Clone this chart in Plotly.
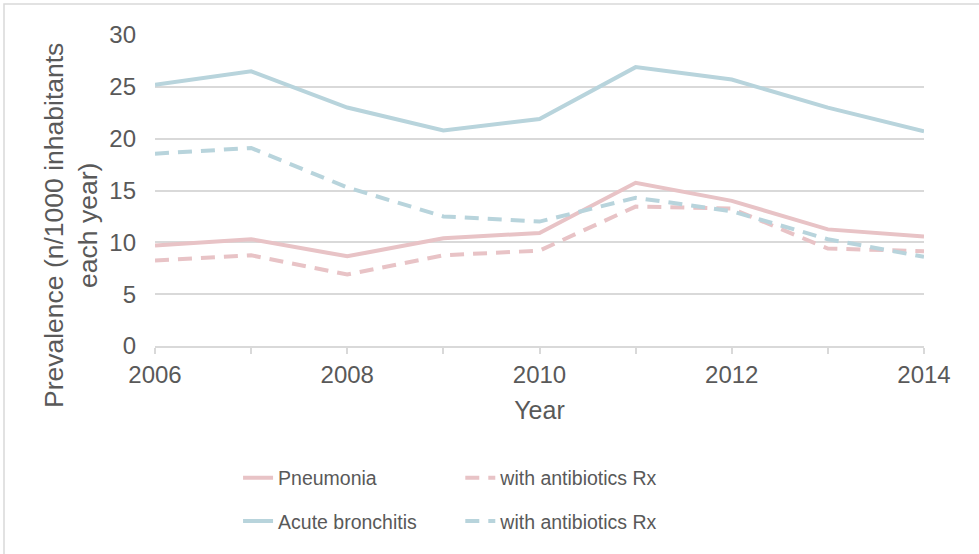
import plotly.graph_objects as go

years = [2006, 2007, 2008, 2009, 2010, 2011, 2012, 2013, 2014]
pneumonia = [9.7, 10.3, 8.65, 10.4, 10.9, 15.75, 14.0, 11.25, 10.55]
pneumonia_rx = [8.25, 8.75, 6.9, 8.75, 9.2, 13.45, 13.25, 9.4, 9.15]
bronchitis = [25.2, 26.5, 23.0, 20.8, 21.9, 26.9, 25.7, 23.0, 20.7]
bronchitis_rx = [18.55, 19.1, 15.3, 12.5, 12.0, 14.3, 13.0, 10.3, 8.6]

pink = "#E8C3C6"
blue = "#B8D4DC"
txt = "#595959"
grid = "#D9D9D9"
FONT = "Liberation Sans, Arial"

fig = go.Figure()
fig.add_trace(go.Scatter(x=years, y=pneumonia, mode="lines", name="Pneumonia",
                         line=dict(color=pink, width=4), legend="legend", legendgroup="a"))
fig.add_trace(go.Scatter(x=years, y=bronchitis, mode="lines", name="Acute bronchitis",
                         line=dict(color=blue, width=4), legend="legend", legendgroup="b"))
fig.add_trace(go.Scatter(x=years, y=pneumonia_rx, mode="lines", name="with antibiotics Rx",
                         line=dict(color=pink, width=4, dash="14px,9px"), legend="legend2", legendgroup="c"))
fig.add_trace(go.Scatter(x=years, y=bronchitis_rx, mode="lines", name="with antibiotics Rx",
                         line=dict(color=blue, width=4, dash="14px,9px"), legend="legend2", legendgroup="d"))

leg_common = dict(orientation="v", xanchor="left", yanchor="top", bgcolor="rgba(0,0,0,0)",
                  font=dict(family=FONT, size=19.5, color=txt),
                  traceorder="grouped", tracegroupgap=15)

fig.update_layout(
    width=979, height=554,
    margin=dict(l=155, r=55, t=35, b=208),
    paper_bgcolor="white", plot_bgcolor="white",
    font=dict(family=FONT, size=20, color=txt),
    legend=dict(x=0.108, y=-0.362, **leg_common),
    legend2=dict(x=0.397, y=-0.362, **leg_common),
    xaxis=dict(range=[2006, 2014], tickvals=[2006, 2008, 2010, 2012, 2014],
               showgrid=False, showline=True, linecolor=grid, linewidth=1.5,
               ticks="outside", tickcolor=grid, ticklen=6, tickwidth=1.5,
               zeroline=False,
               tickfont=dict(family=FONT, size=24, color=txt),
               title=dict(text="Year", font=dict(family=FONT, size=25, color=txt), standoff=15)),
    yaxis=dict(range=[0, 30], tickvals=[0, 5, 10, 15, 20, 25, 30],
               showgrid=True, gridcolor=grid, gridwidth=1.5, zeroline=False,
               showline=False, ticks="", ticklabelstandoff=18,
               tickfont=dict(family=FONT, size=24, color=txt)),
    annotations=[dict(text="Prevalence (n/1000 inhabitants<br>each year)",
                      xref="paper", yref="paper", x=(71 - 155) / 769, y=(346 - 226) / 311,
                      xanchor="center", yanchor="middle", textangle=-90, showarrow=False,
                      font=dict(family=FONT, size=26.5, color=txt))],
    shapes=[dict(type="rect", xref="paper", yref="paper",
                 x0=(4 - 155) / 769, x1=(990 - 155) / 769,
                 y0=(346 - 570) / 311, y1=(346 - 4) / 311,
                 line=dict(color="#D9D9D9", width=1.5), layer="below")],
)
fig.update_xaxes(minor=dict(tickvals=years, ticks="outside", ticklen=6, tickcolor=grid, tickwidth=1.5))

fig.write_html("out.html", config={"displayModeBar": False},
               post_script="document.body.style.margin='0';")
